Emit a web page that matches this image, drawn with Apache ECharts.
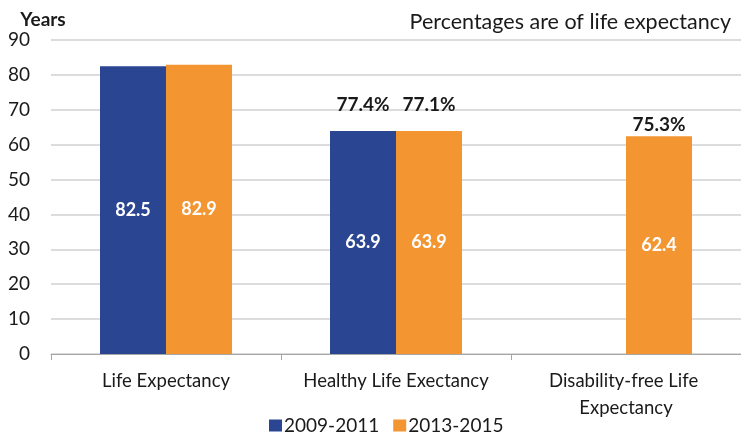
<!DOCTYPE html>
<html>
<head>
<meta charset="utf-8">
<script src="https://cdn.jsdelivr.net/npm/echarts@6/dist/echarts.min.js"></script>
<style>
html,body{margin:0;padding:0;background:#fff;}
#chart{width:741px;height:437px;}
</style>
</head>
<body>
<div id="chart"></div>
<script>
var categories = ['Life Expectancy', 'Healthy Life Exectancy', 'Disability-free Life Expectancy'];
var seriesNames = ['2009-2011', '2013-2015'];
var values2009 = [82.5, 63.9, null];
var values2013 = [82.9, 63.9, 62.4];
var pct2009 = [null, '77.4%', null];
var pct2013 = [null, '77.1%', '75.3%'];
var pctDistance2009 = [0, 17, 0];
var pctDistance2013 = [0, 17, 2];
var yTicks = [0, 10, 20, 30, 40, 50, 60, 70, 80, 90];

var FONT = 'Lato';
var BLUE = '#2A4693';
var ORANGE = '#F39530';

function topData(pcts, dists) {
  return pcts.map(function (p, i) {
    if (p === null) return null;
    return { value: 0, label: { distance: dists[i] } };
  });
}
function pctFormatter(pcts) {
  return function (params) { return pcts[params.dataIndex] || ''; };
}

var chart = echarts.init(document.getElementById('chart'));
chart.setOption({
  animation: false,
  textStyle: { fontFamily: FONT },
  title: {
    text: 'Percentages are of life expectancy',
    right: 5, top: 6,
    textStyle: { fontFamily: FONT, fontSize: 21.5, fontWeight: 'normal', color: '#1a1a1a' }
  },
  legend: {
    data: seriesNames,
    bottom: -3,
    left: 264,
    icon: 'rect',
    itemWidth: 13, itemHeight: 12, itemGap: 14,
    textStyle: { fontFamily: FONT, fontSize: 19, color: '#1a1a1a', padding: [0, 0, 0, -3] }
  },
  grid: { left: 51, right: -5, top: 40, bottom: 83 },
  xAxis: {
    type: 'category',
    data: categories,
    axisLine: { lineStyle: { color: '#a6a6a6' } },
    axisTick: { show: true, length: 6, lineStyle: { color: '#a6a6a6' } },
    axisLabel: {
      fontFamily: FONT, fontSize: 18.5, color: '#1a1a1a', margin: 14,
      width: 210, overflow: 'break', lineHeight: 27, interval: 0
    }
  },
  yAxis: {
    type: 'value',
    min: yTicks[0], max: yTicks[yTicks.length - 1], interval: 10,
    name: 'Years',
    nameLocation: 'end',
    nameGap: 11,
    nameTextStyle: { fontFamily: FONT, fontSize: 19, fontWeight: 'bold', color: '#1a1a1a', padding: [0, 16, 0, 0] },
    axisLine: { show: false },
    axisTick: { show: false },
    axisLabel: { fontFamily: FONT, fontSize: 19, color: '#1a1a1a', margin: 21 },
    splitLine: { lineStyle: { color: '#d0d0d0', width: 1.5 } }
  },
  series: [
    {
      name: seriesNames[0], type: 'bar', stack: 'a', data: values2009,
      barWidth: 66, barGap: '0%',
      itemStyle: { color: BLUE },
      label: { show: true, position: 'inside', color: '#fff', fontFamily: FONT, fontSize: 18, fontWeight: 'bold' }
    },
    {
      name: seriesNames[1], type: 'bar', stack: 'b', data: values2013,
      barWidth: 66, barGap: '0%',
      itemStyle: { color: ORANGE },
      label: { show: true, position: 'inside', color: '#fff', fontFamily: FONT, fontSize: 18, fontWeight: 'bold' }
    },
    {
      name: 'pct2009', type: 'bar', stack: 'a', data: topData(pct2009, pctDistance2009),
      barWidth: 66, barGap: '0%',
      itemStyle: { color: 'transparent' },
      label: { show: true, position: 'top', formatter: pctFormatter(pct2009), color: '#1a1a1a', fontFamily: FONT, fontSize: 19, fontWeight: 'bold' }
    },
    {
      name: 'pct2013', type: 'bar', stack: 'b', data: topData(pct2013, pctDistance2013),
      barWidth: 66, barGap: '0%',
      itemStyle: { color: 'transparent' },
      label: { show: true, position: 'top', formatter: pctFormatter(pct2013), color: '#1a1a1a', fontFamily: FONT, fontSize: 19, fontWeight: 'bold' }
    }
  ]
});
</script>
</body>
</html>
